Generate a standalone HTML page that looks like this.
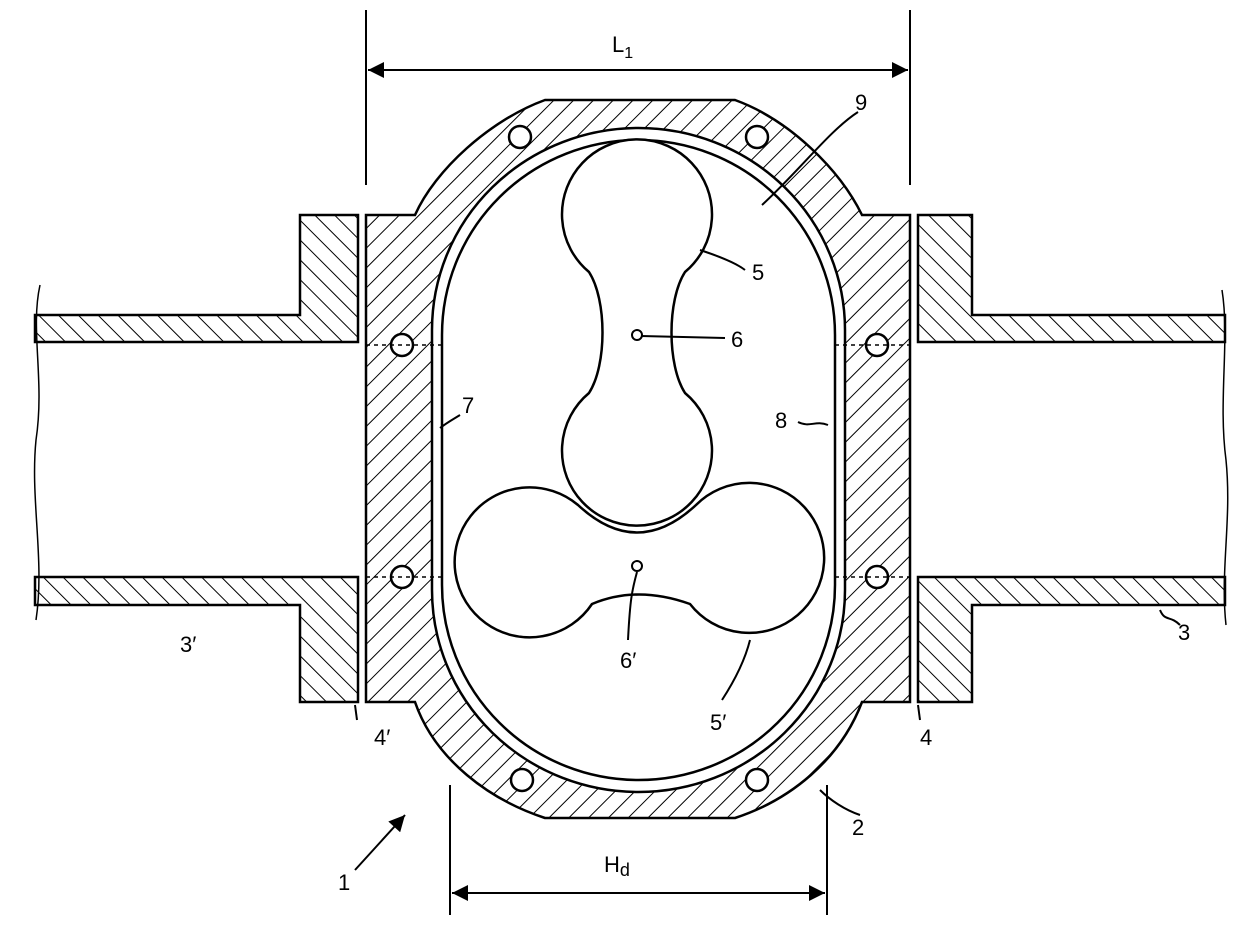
<!DOCTYPE html>
<html><head><meta charset="utf-8"><style>
html,body{margin:0;padding:0;background:#fff}
svg{display:block}
text{font-family:"Liberation Sans",sans-serif;font-size:22px;fill:#000}
</style></head><body>
<svg width="1260" height="930" viewBox="0 0 1260 930" xmlns="http://www.w3.org/2000/svg">
<defs>
<pattern id="hf" width="14" height="14" patternUnits="userSpaceOnUse" patternTransform="rotate(45)">
<rect width="14" height="14" fill="#fff"/><line x1="0" y1="0" x2="0" y2="14" stroke="#000" stroke-width="2"/></pattern>
<pattern id="hb" width="14" height="14" patternUnits="userSpaceOnUse" patternTransform="rotate(-45)">
<rect width="14" height="14" fill="#fff"/><line x1="0" y1="0" x2="0" y2="14" stroke="#000" stroke-width="2"/></pattern>
<marker id="ar" viewBox="0 0 10 10" refX="10" refY="5" markerWidth="10" markerHeight="8" orient="auto-start-reverse"><path d="M0 0 L10 5 L0 10 Z" fill="#000"/></marker>
</defs>
<g stroke="#000" stroke-width="2.5" fill="none">
<!-- pipes -->
<path d="M35 315 L300 315 L300 215 L358 215 L358 342 L35 342 Z" fill="url(#hb)"/>
<path d="M35 577 L358 577 L358 702 L300 702 L300 605 L35 605 Z" fill="url(#hb)"/>
<path d="M918 215 L972 215 L972 315 L1225 315 L1225 342 L918 342 Z" fill="url(#hb)"/>
<path d="M918 577 L1225 577 L1225 605 L972 605 L972 702 L918 702 Z" fill="url(#hb)"/>
<path d="M40 285 C30 330,45 380,36 440 C30 500,45 560,36 620" stroke-width="1.5"/>
<path d="M1222 290 C1230 340,1218 400,1226 460 C1232 520,1220 570,1226 625" stroke-width="1.5"/>
<!-- housing -->
<path fill-rule="evenodd" fill="url(#hf)" d="M545 100 L735 100 C790 120,840 170,862 215 L910 215 L910 702 L862 702 C840 760,790 800,735 818 L545 818 C490 800,435 760,415 702 L366 702 L366 215 L415 215 C435 170,490 120,545 100 Z M432 330 A206.5 202 0 0 1 845 330 L845 590 A206.5 202 0 0 1 432 590 Z"/>
<path d="M442 335 A196.5 195 0 0 1 835 335 L835 585 A196.5 195 0 0 1 442 585 Z" fill="#fff"/>
<!-- bolts -->
<g fill="#fff">
<circle cx="520" cy="137" r="11"/><circle cx="757" cy="137" r="11"/>
<circle cx="402" cy="345" r="11"/><circle cx="877" cy="345" r="11"/>
<circle cx="402" cy="577" r="11"/><circle cx="877" cy="577" r="11"/>
<circle cx="522" cy="780" r="11"/><circle cx="757" cy="780" r="11"/>
</g>
<g stroke-dasharray="4 4" stroke-width="1.5">
<line x1="366" y1="345" x2="442" y2="345"/><line x1="835" y1="345" x2="910" y2="345"/>
<line x1="366" y1="577" x2="442" y2="577"/><line x1="835" y1="577" x2="910" y2="577"/>
</g>
<!-- rotors -->
<path d="M685 272 C667 300,667 365,685 393 A75 75 0 1 1 589 393 C607 365,607 300,589 272 A75 75 0 1 1 685 272 Z" fill="#fff"/>
<path d="M578 505 Q637 560 696 505 A75 75 0 1 1 690 604 Q637 585 592 604 A75 75 0 1 1 578 505 Z" fill="#fff"/>
<circle cx="637" cy="335" r="5" fill="#fff" stroke-width="2"/>
<circle cx="637" cy="566" r="5" fill="#fff" stroke-width="2"/>
<!-- dimensions -->
<g stroke-width="2">
<line x1="366" y1="10" x2="366" y2="185"/><line x1="910" y1="10" x2="910" y2="185"/>
<line x1="368" y1="70" x2="908" y2="70" marker-start="url(#ar)" marker-end="url(#ar)"/>
<line x1="450" y1="785" x2="450" y2="915"/><line x1="827" y1="785" x2="827" y2="915"/>
<line x1="452" y1="893" x2="825" y2="893" marker-start="url(#ar)" marker-end="url(#ar)"/>
<line x1="355" y1="870" x2="405" y2="815" marker-end="url(#ar)"/>
<!-- leaders -->
<path d="M858 112 C830 130,800 170,762 205"/>
<path d="M700 250 C715 255,735 262,745 270"/>
<path d="M641 336 L725 338"/>
<path d="M828 425 C815 420,810 428,798 422"/>
<path d="M460 415 C452 420,448 422,440 428"/>
<path d="M637 572 C632 590,630 600,628 640"/>
<path d="M722 700 C735 680,745 660,750 640"/>
<path d="M860 815 C845 810,830 800,820 790"/>
<path d="M1180 625 C1170 615,1165 622,1160 610"/>
<path d="M355 705 L357 720"/><path d="M918 705 L920 720"/>
</g>
</g>
<text x="612" y="52">L<tspan font-size="16" dy="6">1</tspan></text>
<text x="604" y="872">H<tspan font-size="18" dy="4">d</tspan></text>
<text x="855" y="110">9</text>
<text x="752" y="280">5</text>
<text x="731" y="347">6</text>
<text x="775" y="428">8</text>
<text x="462" y="413">7</text>
<text x="620" y="668">6′</text>
<text x="710" y="730">5′</text>
<text x="180" y="652">3′</text>
<text x="1178" y="640">3</text>
<text x="374" y="745">4′</text>
<text x="920" y="745">4</text>
<text x="852" y="835">2</text>
<text x="338" y="890">1</text>
</svg>
</body></html>
